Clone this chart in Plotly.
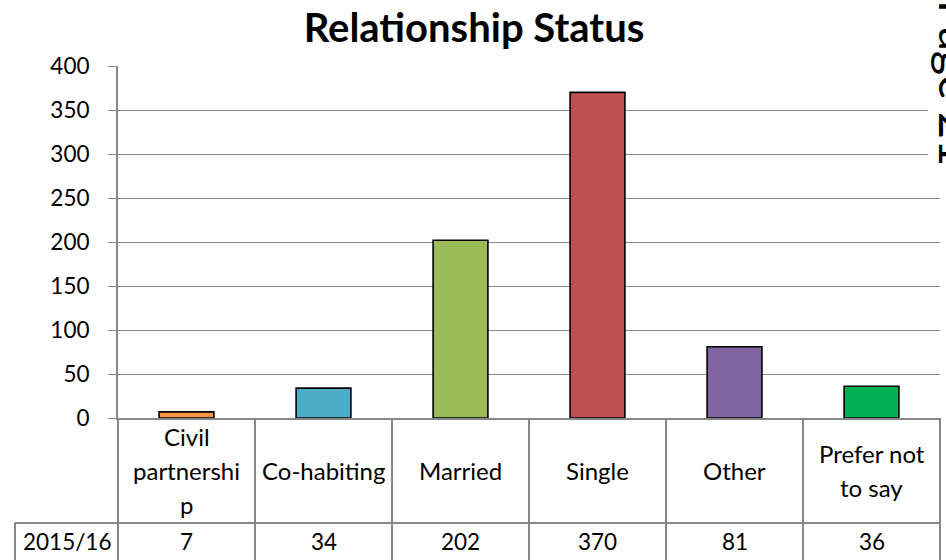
import plotly.graph_objects as go

categories = ["Civil\npartnershi\np", "Co-habiting", "Married", "Single", "Other", "Prefer not\nto say"]
values = [7, 34, 202, 370, 81, 36]
series_name = "2015/16"
colors = ["#F79646", "#4BACC6", "#9BBB59", "#C0504D", "#8064A2", "#00B050"]
y_ticks = [0, 50, 100, 150, 200, 250, 300, 350, 400]
page_label = "Page 21"

W, H = 946, 560
L, R, T, B = 118, 6, 66, 142
PW = W - L - R
PH = H - T - B

def px_x(px):
    return (px - L) / PW

def px_y(py):
    return (H - B - py) / PH

FONT = "Lato, Carlito, Calibri, sans-serif"
GRID = "#878787"
WORD_SIZE = 24
NUM_SIZE = 22.5

fig = go.Figure()
fig.add_trace(go.Bar(
    x=list(range(len(categories))),
    y=values,
    width=0.4,
    marker=dict(color=colors, line=dict(color="black", width=1.6)),
    showlegend=False,
    hoverinfo="skip",
))

n = len(categories)
shapes = []
table_bottom = px_y(575)
header_bottom = px_y(523)
left_cell = px_x(15)
for k in range(n + 1):
    shapes.append(dict(type="line", xref="paper", yref="paper",
                       x0=k / n, x1=k / n, y0=0, y1=table_bottom,
                       line=dict(color=GRID, width=2)))
shapes.append(dict(type="line", xref="paper", yref="paper",
                   x0=left_cell, x1=1, y0=header_bottom, y1=header_bottom,
                   line=dict(color=GRID, width=2)))
shapes.append(dict(type="line", xref="paper", yref="paper",
                   x0=left_cell, x1=left_cell, y0=header_bottom, y1=table_bottom,
                   line=dict(color=GRID, width=2)))
# white backing behind the page number text
shapes.append(dict(type="rect", xref="paper", yref="paper",
                   x0=px_x(928), x1=px_x(960), y0=px_y(166), y1=px_y(-10),
                   fillcolor="white", line=dict(width=0), layer="above"))

annotations = []
header_center = 470.5
line_gap = 34
for k, cat in enumerate(categories):
    lines = cat.split("\n")
    m = len(lines)
    for i, ln in enumerate(lines):
        cy = header_center + (i - (m - 1) / 2) * line_gap
        annotations.append(dict(xref="paper", yref="paper", x=(k + 0.5) / n, y=px_y(cy),
                                text=ln, showarrow=False, xanchor="center", yanchor="middle",
                                font=dict(family=FONT, size=WORD_SIZE, color="black")))
    annotations.append(dict(xref="paper", yref="paper", x=(k + 0.5) / n, y=px_y(541),
                            text=str(values[k]), showarrow=False, xanchor="center", yanchor="middle",
                            font=dict(family=FONT, size=NUM_SIZE, color="black")))
annotations.append(dict(xref="paper", yref="paper", x=px_x((15 + L) / 2), y=px_y(541),
                        text=series_name, showarrow=False, xanchor="center", yanchor="middle",
                        font=dict(family=FONT, size=NUM_SIZE, color="black")))
annotations.append(dict(xref="paper", yref="paper", x=px_x(927), y=px_y(-2),
                        text=page_label, textangle=90, showarrow=False,
                        xanchor="left", yanchor="top",
                        font=dict(family=FONT, size=47, color="black")))

fig.update_layout(
    width=W, height=H, autosize=False,
    margin=dict(l=L, r=R, t=T, b=B),
    paper_bgcolor="white", plot_bgcolor="white",
    title=dict(text="<b>Relationship Status</b>", x=474 / W, xanchor="center",
               yref="container", y=1 - 28 / H, yanchor="middle",
               font=dict(family=FONT, size=40, color="black")),
    xaxis=dict(range=[-0.5, n - 0.5], showticklabels=False, ticks="", showgrid=False,
               showline=True, linecolor=GRID, linewidth=2, zeroline=False, fixedrange=True),
    yaxis=dict(range=[0, 400], tickvals=y_ticks, showgrid=True, gridcolor=GRID, gridwidth=1.3,
               showline=True, linecolor=GRID, linewidth=2, ticks="outside", ticklen=8,
               tickcolor=GRID, tickwidth=1.3, zeroline=False, ticklabelstandoff=14,
               tickfont=dict(family=FONT, size=NUM_SIZE, color="black")),
    shapes=shapes,
    annotations=annotations,
)

fig.write_html("out.html", config={"displayModeBar": False},
               post_script="document.body.style.margin='0';document.body.style.overflow='hidden';")
